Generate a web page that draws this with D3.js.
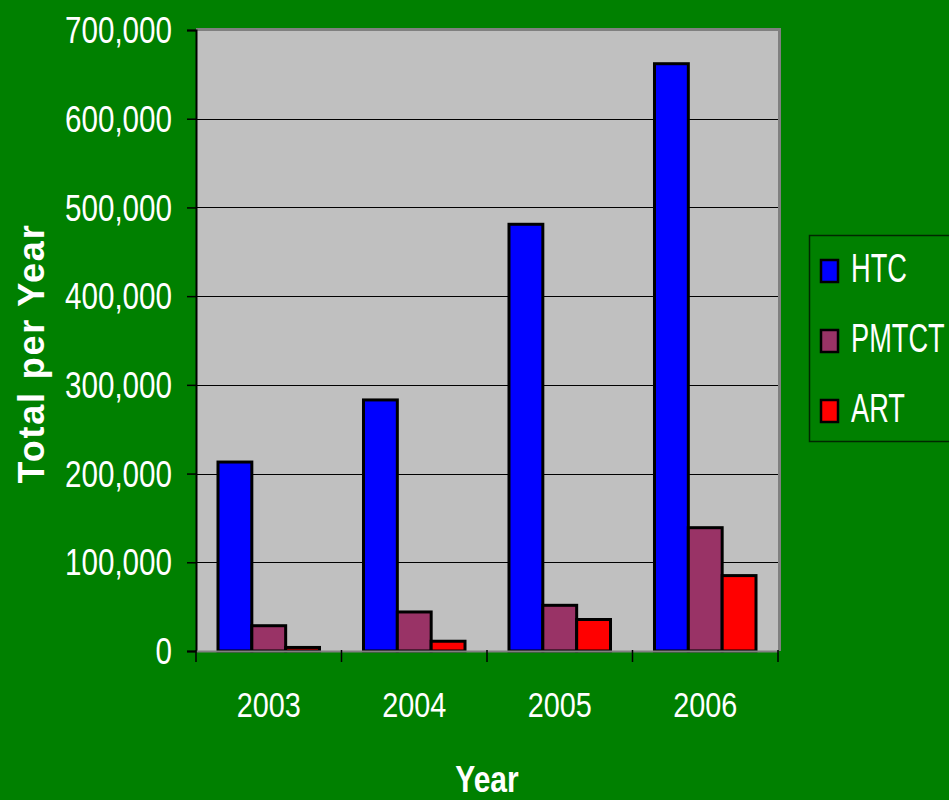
<!DOCTYPE html>
<html>
<head>
<meta charset="utf-8">
<script src="https://cdn.jsdelivr.net/npm/d3@7"></script>
<style>
  html, body { margin: 0; padding: 0; background: #008000; }
  svg { display: block; }
  text { font-family: "Liberation Sans", Arial, sans-serif; }
</style>
</head>
<body>
<svg id="chart" width="949" height="800"></svg>
<script>
// Yearly totals per programme
const years = ["2003", "2004", "2005", "2006"];
const seriesNames = ["HTC", "PMTCT", "ART"];
const htc   = [213000, 283000, 481000, 662000];
const pmtct = [28500, 44000, 51500, 139000];
const art   = [4000, 11000, 35500, 85000];
const seriesColors = ["#0000FF", "#993366", "#FF0000"];
const yTicks = [0, 100000, 200000, 300000, 400000, 500000, 600000, 700000];

const seriesValues = [htc, pmtct, art];
const rows = years.map((yr, i) => ({
  year: yr,
  values: seriesNames.map((s, j) => ({ series: s, value: seriesValues[j][i], color: seriesColors[j] }))
}));

// horizontal squeeze giving a narrow face from the regular sans
const NARROW = 0.8;

const svg = d3.select("#chart");
const W = 949, H = 800;
svg.append("rect").attr("width", W).attr("height", H).attr("fill", "#008000");

const plot = { left: 196, right: 778, top: 30, bottom: 651 };

const x0 = d3.scaleBand().domain(years).range([plot.left, plot.right]).padding(0);
const x1 = d3.scaleBand().domain(seriesNames).range([0, x0.bandwidth()])
  .paddingInner(0).paddingOuter(0.65);
const y = d3.scaleLinear().domain([0, 700000]).range([plot.bottom, plot.top]);

// plot background with darker frame on top / right
svg.append("rect")
  .attr("x", plot.left).attr("y", plot.top)
  .attr("width", plot.right - plot.left).attr("height", plot.bottom - plot.top)
  .attr("fill", "#C0C0C0");
svg.append("path")
  .attr("d", `M${plot.left},${plot.top - 0.5}H${plot.right + 1.5}V${plot.bottom}`)
  .attr("fill", "none").attr("stroke", "#808080").attr("stroke-width", 3);

// gridlines
svg.append("g")
  .selectAll("line")
  .data(yTicks.filter(t => t > 0 && t < 700000))
  .join("line")
  .attr("x1", plot.left).attr("x2", plot.right)
  .attr("y1", d => Math.round(y(d)) + 0.5).attr("y2", d => Math.round(y(d)) + 0.5)
  .attr("stroke", "#000").attr("stroke-width", 1.2);

// bars
const groups = svg.append("g").selectAll("g")
  .data(rows)
  .join("g")
  .attr("transform", d => `translate(${x0(d.year)},0)`);

groups.selectAll("rect")
  .data(d => d.values)
  .join("rect")
  .attr("x", d => x1(d.series))
  .attr("y", d => y(d.value))
  .attr("width", x1.bandwidth())
  .attr("height", d => y(0) - y(d.value))
  .attr("fill", d => d.color)
  .attr("stroke", "#000")
  .attr("stroke-width", 3);

// y axis
const yAxis = d3.axisLeft(y).tickValues(yTicks).tickSize(9).tickPadding(15)
  .tickFormat(d3.format(","));
const gy = svg.append("g").attr("transform", `translate(${plot.left},0)`).call(yAxis);
gy.select(".domain").attr("stroke", "#000").attr("stroke-width", 2);
gy.selectAll(".tick line").attr("stroke", "#000").attr("stroke-width", 1.5);
gy.selectAll(".tick text")
  .attr("fill", "#fff")
  .style("font-size", "37px")
  .attr("x", -24 / NARROW)
  .attr("dy", "0.34em")
  .attr("transform", `scale(${NARROW},1)`);

// x axis
const xAxis = d3.axisBottom(x0).tickSize(0).tickPadding(40);
const gx = svg.append("g").attr("transform", `translate(0,${plot.bottom})`).call(xAxis);
gx.select(".domain").attr("stroke", "#808080").attr("stroke-width", 2);
gx.selectAll(".tick text")
  .attr("fill", "#fff")
  .style("font-size", "36px")
  .attr("transform", `scale(${NARROW},1)`);
// category separators
svg.append("g").selectAll("line")
  .data(years.map(yr => x0(yr)).concat([plot.right]))
  .join("line")
  .attr("x1", d => d).attr("x2", d => d)
  .attr("y1", plot.bottom - 1).attr("y2", plot.bottom + 11)
  .attr("stroke", "#000").attr("stroke-width", 1.5);

// axis titles
svg.append("text")
  .attr("transform", `translate(44,${(plot.top + plot.bottom) / 2 + 13}) rotate(-90)`)
  .attr("text-anchor", "middle")
  .attr("fill", "#fff")
  .style("font-weight", "bold")
  .style("font-size", "36px")
  .style("letter-spacing", "1.8px")
  .text("Total per Year");

svg.append("text")
  .attr("transform", `translate(${(plot.left + plot.right) / 2},792) scale(0.81,1)`)
  .attr("text-anchor", "middle")
  .attr("fill", "#fff")
  .style("font-weight", "bold")
  .style("font-size", "37px")
  .text("Year");

// legend
const legend = svg.append("g");
legend.append("rect")
  .attr("x", 809.5).attr("y", 235.5)
  .attr("width", 160).attr("height", 206)
  .attr("fill", "#008000").attr("stroke", "#002800").attr("stroke-width", 1.5);

const item = legend.selectAll("g.item")
  .data(seriesNames.map((s, i) => ({ name: s, color: seriesColors[i], i })))
  .join("g")
  .attr("class", "item")
  .attr("transform", d => `translate(0,${d.i * 70})`);

item.append("rect")
  .attr("x", 821).attr("y", 260)
  .attr("width", 17).attr("height", 22)
  .attr("fill", d => d.color)
  .attr("stroke", "#000").attr("stroke-width", 2.5);

item.append("text")
  .attr("transform", "translate(851,282) scale(0.68,1)")
  .attr("fill", "#fff")
  .style("font-size", "40px")
  .text(d => d.name);
</script>
</body>
</html>
